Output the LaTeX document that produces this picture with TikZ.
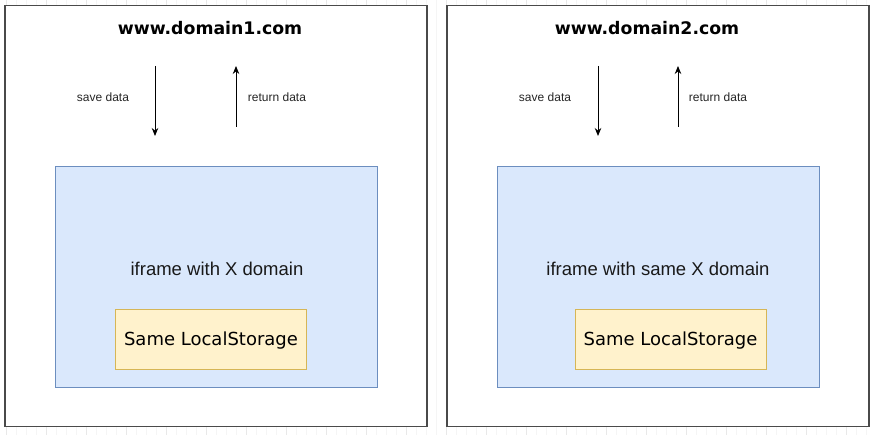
\documentclass[tikz,border=0pt]{standalone}
\usepackage{fontspec}
\setmainfont{Liberation Sans}
\newfontfamily\verdanalike{DejaVu Sans}
\usepackage{tikz}
\usetikzlibrary{positioning, arrows.meta}
\definecolor{myblue}{HTML}{DAE8FC}
\definecolor{myblueline}{HTML}{6C8EBF}
\definecolor{myyellow}{HTML}{FFF2CC}
\definecolor{myyellowline}{HTML}{D6B656}
\definecolor{myframe}{HTML}{4A4A4A}
\tikzset{
	domainbox/.style={
			rectangle,
			draw=myframe,
			line width=1.2pt,
			fill=white,
			minimum width=422pt,
			minimum height=421pt,
			inner sep=0pt
		},
	iframebox/.style={
			rectangle,
			draw=myblueline,
			line width=0.9pt,
			fill=myblue,
			minimum width=322pt,
			minimum height=221pt,
			inner sep=0pt
		},
	storagebox/.style={
			rectangle,
			draw=myyellowline,
			line width=0.9pt,
			fill=myyellow,
			minimum width=191pt,
			minimum height=60pt,
			inner sep=0pt,
			text depth=0pt,
			font=\verdanalike\fontsize{18}{20}\selectfont
		},
	titletext/.style={font=\verdanalike\bfseries\fontsize{17.3}{19}\selectfont},
	smalltext/.style={font=\fontsize{12}{14}\selectfont, text=black!85},
	iframetext/.style={font=\fontsize{18.5}{21}\selectfont, text=black!90},
	dataarrow/.style={-{Stealth[length=8pt,width=6.5pt]}, line width=0.9pt}
}

\begin{document}
\begin{tikzpicture}[x=1pt, y=-1pt]

              \useasboundingbox (0,0) rectangle (875,435);
              % faint drawing grid behind everything
              \begin{scope}[shift={(6,6)}]
                \draw[black!4, line width=0.5pt] (-6,-6) grid[step=10] (869,429);
                \draw[black!9, line width=0.6pt] (-6,-6) grid[step=40] (869,429);
              \end{scope}

              \node[domainbox] (dom1) at (216,216) {};
              \node[domainbox] (dom2) at (658,216) {};

              \node[titletext] (title1) at (210,28) {www.domain1.com};
              \node[titletext] (title2) at (647,28) {www.domain2.com};

              \node[iframebox] (frame1) at (216,276.5) {};
              \node[iframebox] (frame2) at (658,276.5) {};

              \node[iframetext] (frametext1) at (217,269) {iframe with X domain};
              \node[iframetext] (frametext2) at (658,269) {iframe with same X domain};

              \node[storagebox] (store1) at (211,339) {Same LocalStorage};
              \node[storagebox] (store2) at (670.5,339) {Same LocalStorage};

              % arrows above the iframes
              \coordinate (save1top) at (155,66);
              \coordinate (save1end) at (155,136);
              \coordinate (ret1start) at (236,127);
              \coordinate (ret1end) at (236,66);
              \coordinate (save2top) at (598,66);
              \coordinate (save2end) at (598,136);
              \coordinate (ret2start) at (678,127);
              \coordinate (ret2end) at (678,66);

              \draw[dataarrow] (save1top) -- (save1end);
              \draw[dataarrow] (ret1start) -- (ret1end);
              \draw[dataarrow] (save2top) -- (save2end);
              \draw[dataarrow] (ret2start) -- (ret2end);

              \node[smalltext] (save1) at (103,97) {save data};
              \node[smalltext] (ret1) at (277,97) {return data};
              \node[smalltext] (save2) at (545,97) {save data};
              \node[smalltext] (ret2) at (718,97) {return data};
            \end{tikzpicture}
\end{document}
